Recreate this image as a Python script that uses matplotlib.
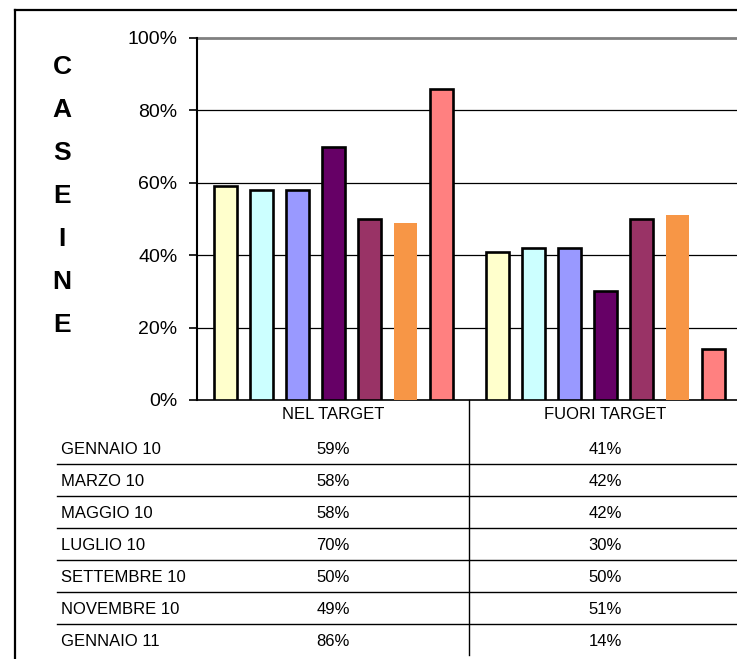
import matplotlib.pyplot as plt
import numpy as np

plt.rcParams['font.family'] = ['Liberation Sans', 'DejaVu Sans']

# data
categories = ['NEL TARGET', 'FUORI TARGET']
periods = ['GENNAIO 10', 'MARZO 10', 'MAGGIO 10', 'LUGLIO 10',
           'SETTEMBRE 10', 'NOVEMBRE 10', 'GENNAIO 11']
nel_target = [59, 58, 58, 70, 50, 49, 86]
fuori_target = [41, 42, 42, 30, 50, 51, 14]
colors = ['#FFFFCC', '#CCFFFF', '#9999FF', '#660066', '#993366', '#F79646', '#FF8080']
side_title = 'CASEINE'

W, H = 737, 659
CAT = 272  # pixel width of one category
fig = plt.figure(figsize=(W / 100, H / 100), dpi=100)


def fx(px):
    return px / W


def fy(py):
    return 1 - py / H


# plot area in pixels: x 197..741 (clipped by figure), y 38..400
ax = fig.add_axes([fx(197), fy(400), fx(2 * CAT), 362 / H])

values = np.array([nel_target, fuori_target], dtype=float) / 100
x = np.arange(len(categories))
pitch, width = 36 / CAT, 23 / CAT
for i, name in enumerate(periods):
    ec = 'none' if colors[i] == '#F79646' else 'black'
    ax.bar(x + (i - 3) * pitch, values[:, i], width, color=colors[i],
           edgecolor=ec, linewidth=1.9, zorder=3)

ax.set_xlim(-0.5, 1.5)
ax.set_ylim(0, 1)
ax.set_yticks(np.arange(0, 1.01, 0.2))
ax.set_yticklabels([f'{int(v * 100)}%' for v in np.arange(0, 1.01, 0.2)], fontsize=14)
ax.tick_params(axis='y', length=6, width=1.2, pad=8)
for v in [0.2, 0.4, 0.6, 0.8]:
    ax.axhline(v, color='black', lw=0.9, zorder=1)
ax.axhline(1.0, color='#808080', lw=2, zorder=1, clip_on=False)

ax.set_xticks(x)
ax.set_xticklabels(categories, fontsize=12)
ax.tick_params(axis='x', length=0, pad=5)
for s in ['top', 'right']:
    ax.spines[s].set_visible(False)
ax.spines['left'].set_linewidth(1.5)
ax.spines['bottom'].set_linewidth(1.2)

# table under the chart
xt = ax.get_xaxis_transform()
ax.plot([0.5, 0.5], [0, -255 / 362], color='black', lw=1, transform=xt, clip_on=False)
for k in range(len(periods) - 1):
    yy = fy(464 + 32 * k)
    fig.add_artist(plt.Line2D([fx(57), 1], [yy, yy], color='black', lw=1))
for i, name in enumerate(periods):
    yy = fy(449 + 32 * i)
    fig.text(fx(61), yy, name, fontsize=12, ha='left', va='center')
    for j in range(len(categories)):
        px = 197 + CAT * j + CAT / 2
        fig.text(fx(px), yy, f'{int(round(values[j, i] * 100))}%', fontsize=12,
                 ha='center', va='center')

# vertical title
for i, ch in enumerate(side_title):
    fig.text(fx(62), fy(67 + 43 * i), ch, fontsize=19, fontweight='bold',
             ha='center', va='center')

# frame lines
fig.add_artist(plt.Line2D([fx(15), 1], [fy(10), fy(10)], color='black', lw=1.6))
fig.add_artist(plt.Line2D([fx(15), fx(15)], [fy(10), 0], color='black', lw=1.6))

fig.savefig('out.png', dpi=100)
